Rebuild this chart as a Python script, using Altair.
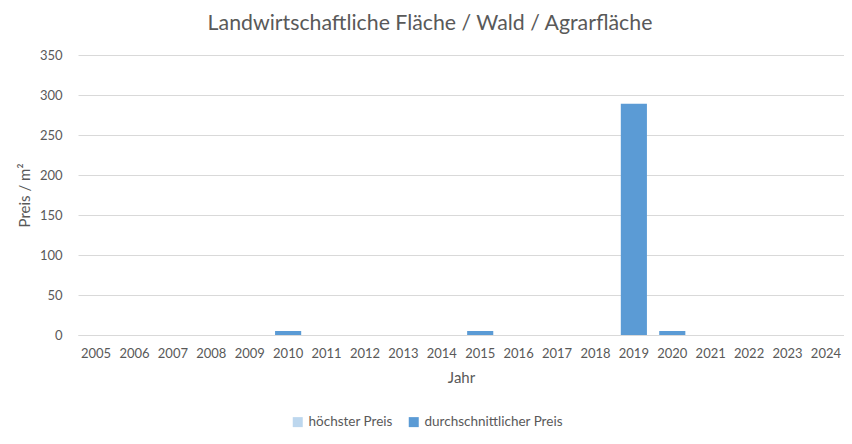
import altair as alt
import pandas as pd

years = [str(y) for y in range(2005, 2025)]
hoechster = [None] * 20
durchschnitt = [None, None, None, None, None, 5, None, None, None, None,
                5, None, None, None, 289, 5, None, None, None, None]
series = ["höchster Preis", "durchschnittlicher Preis"]
colors = ["#BDD7EE", "#5B9BD5"]

rows = []
for y, h, d in zip(years, hoechster, durchschnitt):
    if h is not None:
        rows.append({"Jahr": y, "Serie": series[0], "Wert": h})
    if d is not None:
        rows.append({"Jahr": y, "Serie": series[1], "Wert": d})
df = pd.DataFrame(rows)

FONT = "Lato"
GRAY = "#595959"

chart = alt.Chart(df).mark_bar().encode(
    x=alt.X("Jahr:N", scale=alt.Scale(domain=years, paddingInner=0.32, paddingOuter=0.13),
            axis=alt.Axis(title="Jahr", labelAngle=0, ticks=False, domainColor="#D9D9D9",
                          labelColor=GRAY, labelFontSize=13, labelFont=FONT, labelPadding=12,
                          titleColor=GRAY, titleFontSize=15, titleFont=FONT, titleFontWeight="normal",
                          titlePadding=10)),
    y=alt.Y("Wert:Q", scale=alt.Scale(domain=[0, 350]),
            axis=alt.Axis(title="Preis / m²", values=list(range(0, 351, 50)), domain=False, ticks=False,
                          gridColor="#D9D9D9", labelColor=GRAY, labelFontSize=13, labelFont=FONT,
                          labelPadding=16, titleColor=GRAY, titleFontSize=15, titleFont=FONT,
                          titleFontWeight="normal", titlePadding=7)),
    color=alt.Color("Serie:N", scale=alt.Scale(domain=series, range=colors),
                    legend=alt.Legend(title=None, orient="none", direction="horizontal",
                                      legendX=213, legendY=360, symbolType="square", symbolSize=100,
                                      labelColor=GRAY, labelFontSize=13.5, labelFont=FONT,
                                      columnPadding=14, labelOffset=4, symbolStrokeWidth=0)),
).properties(
    width=766, height=280,
    autosize=alt.AutoSizeParams(type="none"),
    padding={"left": 70, "top": 47, "right": 0, "bottom": 106},
    title=alt.TitleParams("Landwirtschaftliche Fläche / Wald / Agrarfläche", font=FONT, fontSize=21.3,
                          fontWeight="normal", color=GRAY, anchor="middle", dx=-31, offset=15),
).configure_view(stroke=None)

chart.save("out.html", embed_options={"renderer": "svg", "actions": False})
